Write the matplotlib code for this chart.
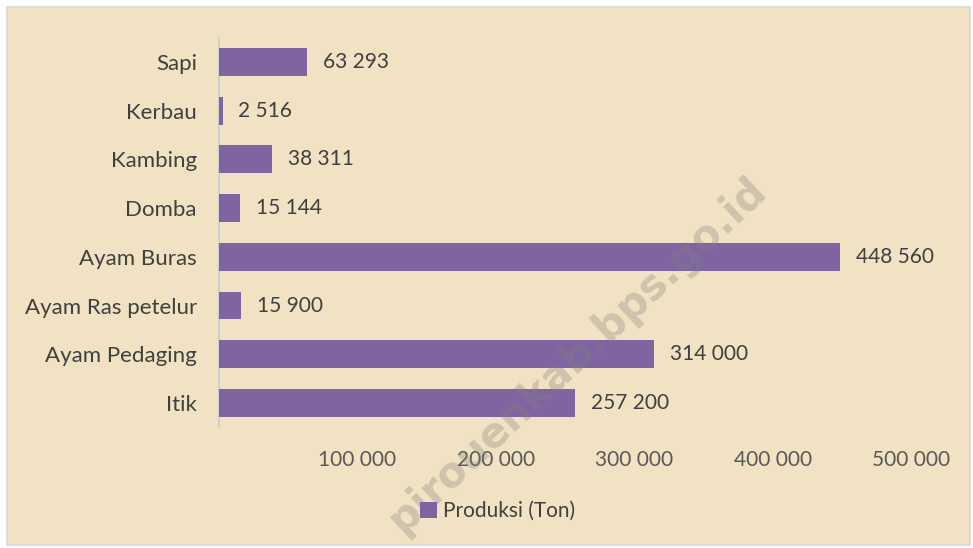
import matplotlib
matplotlib.use("Agg")
import matplotlib.pyplot as plt
from matplotlib.patches import Rectangle
import numpy as np

plt.rcParams['font.family'] = ['Lato', 'DejaVu Sans']

categories = ["Sapi", "Kerbau", "Kambing", "Domba", "Ayam Buras",
              "Ayam Ras petelur", "Ayam Pedaging", "Itik"]
produksi = [63293, 2516, 38311, 15144, 448560, 15900, 314000, 257200]
xticks = [100000, 200000, 300000, 400000, 500000]
series_name = "Produksi (Ton)"

bar_color = "#8064A2"
bg_color = "#F0E2C2"
text_color = "#404040"
tick_color = "#595959"

def fmt(v):
    return "{:,}".format(v).replace(",", " ")

fig = plt.figure(figsize=(9.73, 5.48), dpi=100)
fig.patch.set_facecolor("white")

# chart area background with thin border
fig.patches.append(Rectangle((7 / 973, 3 / 548), 963 / 973, 538 / 548,
                             transform=fig.transFigure, facecolor=bg_color,
                             edgecolor="#D9D9D9", linewidth=1.2, zorder=-10))

ax = fig.add_axes([0.2251, 0.2201, 0.7112, 0.7113])
ax.set_facecolor("none")

y = np.arange(len(categories))
bars = ax.barh(y, produksi, height=0.571, color=bar_color, zorder=3)
ax.set_ylim(len(categories) - 0.5, -0.5)
ax.set_xlim(0, 500000)

ax.set_yticks(y)
ax.set_yticklabels(categories, fontsize=16, color=text_color)
ax.set_xticks(xticks)
ax.set_xticklabels([fmt(t) for t in xticks], fontsize=15, color=tick_color)
ax.tick_params(axis="y", length=0, pad=16)
ax.tick_params(axis="x", length=0, pad=16)

for s in ["top", "right", "bottom"]:
    ax.spines[s].set_visible(False)
ax.spines["left"].set_color("#D0D0D0")
ax.spines["left"].set_linewidth(1.5)

for b, v in zip(bars, produksi):
    ax.text(b.get_width() + 11500, b.get_y() + b.get_height() / 2, fmt(v),
            va="center", ha="left", fontsize=15, color=text_color, zorder=4)

# watermark
fig.text(577 / 973, 1 - 355 / 548, "pirouenkab.bps.go.id", rotation=43,
         fontsize=30, fontweight="bold", color="#7F7F7F", alpha=0.3,
         ha="center", va="center", family="DejaVu Sans", zorder=5)

handle = Rectangle((0, 0), 1, 1, facecolor=bar_color)
fig.legend([handle], [series_name], loc="center",
           bbox_to_anchor=(498 / 973, 1 - 511 / 548), frameon=False,
           fontsize=15, handlelength=0.8, handleheight=0.8, handletextpad=0.3,
           labelcolor=text_color)

fig.savefig("out.png", dpi=100, facecolor="white")
